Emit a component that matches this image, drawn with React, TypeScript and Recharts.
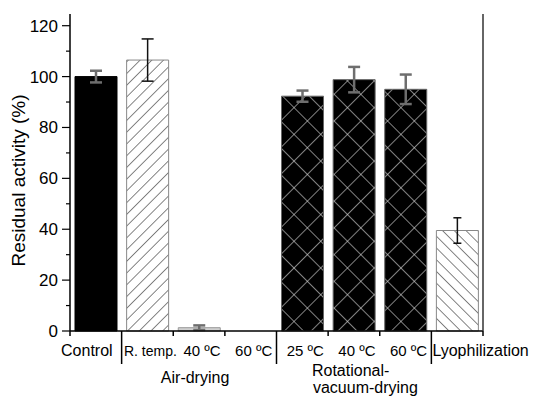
import { BarChart, Bar, XAxis, YAxis, ErrorBar, Cell } from 'recharts';

const categories = ['Control', 'R. temp.', '40 ºC', '60 ºC', '25 ºC', '40 ºC', '60 ºC', 'Lyophilization'];
const activity = [100, 106.5, 1.3, 0, 92.3, 98.8, 95, 39.5];
const deviation = [2.3, 8.3, 0.9, 0, 2.2, 5.0, 5.8, 5.0];
const yTicks = [0, 10, 20, 30, 40, 50, 60, 70, 80, 90, 100, 110, 120];

// how each treatment is drawn: fill, outline and which error bar style it uses
const looks = [
  { fill: '#000', stroke: '#000', err: 'gray' },
  { fill: 'url(#hatchFwd)', stroke: '#888', err: 'black' },
  { fill: '#cfcfcf', stroke: '#999', err: 'gray' },
  { fill: '#cfcfcf', stroke: '#999', err: 'gray' },
  { fill: 'url(#crossHatch)', stroke: '#666', err: 'gray' },
  { fill: 'url(#crossHatch)', stroke: '#666', err: 'gray' },
  { fill: 'url(#crossHatch)', stroke: '#666', err: 'gray' },
  { fill: 'url(#hatchBack)', stroke: '#888', err: 'narrow' },
];

const rows = categories.map((name, i) => ({
  name,
  value: activity[i],
  errGray: looks[i].err === 'gray' ? deviation[i] : undefined,
  errBlack: looks[i].err === 'black' ? deviation[i] : undefined,
  errNarrow: looks[i].err === 'narrow' ? deviation[i] : undefined,
}));

const FONT = '"Liberation Sans", Arial, sans-serif';
const groupStarts = [1, 4, 7];

const WIDTH = 533;
const HEIGHT = 396;
const TOP = 14;
const X_AXIS_H = 65;
const PLOT_H = HEIGHT - TOP - X_AXIS_H;

const ValueTick = (props: any) => {
  const { x, y, payload } = props;
  const major = payload.value % 20 === 0;
  return (
    <g>
      <line x1={x - (major ? 8 : 4)} x2={x} y1={y} y2={y} stroke="#000" strokeWidth={1.2} />
      {major && (
        <text x={x - 12} y={y + 6} textAnchor="end" fontSize={17} fontFamily={FONT} fill="#000">
          {payload.value}
        </text>
      )}
    </g>
  );
};

const CategoryTick = (props: any) => {
  const { x, y, payload } = props;
  const i = payload.index ?? props.index;
  const half = payload.offset ?? 0;
  const left = x - half;
  const right = x + half;
  const last = i === categories.length - 1;

  let labelX = x + 3;
  let anchor: 'start' | 'middle' | 'end' = 'middle';
  let size = 15;
  if (i === 0) {
    labelX = right - 9;
    anchor = 'end';
    size = 16;
  } else if (last) {
    labelX = left + 1;
    anchor = 'start';
    size = 16;
  } else if (i === 1) {
    size = 14;
  }

  const long = groupStarts.includes(i);
  return (
    <g fontFamily={FONT} fill="#000">
      <line x1={left} x2={left} y1={y} y2={y + (long ? 33 : 5)} stroke="#000" strokeWidth={1.5} />
      {last && (
        <>
          <line x1={right} x2={right} y1={y} y2={y + 5} stroke="#000" strokeWidth={1.5} />
          {/* right edge of the frame */}
          <line x1={right} x2={right} y1={y} y2={y - PLOT_H} stroke="#333" strokeWidth={1.5} />
        </>
      )}
      <text x={labelX} y={y + 25} textAnchor={anchor} fontSize={size}>
        {payload.value}
      </text>
      {i === 2 && (
        <text x={x - 4} y={y + 52} textAnchor="middle" fontSize={16}>
          Air-drying
        </text>
      )}
      {i === 5 && (
        <>
          <text x={x - 42} y={y + 45} textAnchor="start" fontSize={16}>
            Rotational-
          </text>
          <text x={x - 41} y={y + 62} textAnchor="start" fontSize={16}>
            vacuum-drying
          </text>
        </>
      )}
    </g>
  );
};

const AxisTitle = (props: any) => {
  const { viewBox } = props;
  const cy = viewBox.y + viewBox.height / 2 + 8;
  return (
    <text
      transform={`translate(25, ${cy}) rotate(-90)`}
      textAnchor="middle"
      fontSize={19}
      fontFamily={FONT}
      fill="#000"
    >
      Residual activity (%)
    </text>
  );
};

export default function App() {
  return (
    <div style={{ position: 'absolute', left: 0, top: 0, background: '#fff' }}>
      <BarChart width={WIDTH} height={HEIGHT} data={rows} margin={{ top: TOP, right: 50, left: 0, bottom: 0 }}>
        <defs>
          <pattern id="hatchFwd" width={8.3} height={8.3} patternUnits="userSpaceOnUse" patternTransform="rotate(45)">
            <rect width={8.3} height={8.3} fill="#fff" />
            <line x1={0} y1={0} x2={0} y2={8.3} stroke="#333" strokeWidth={1.2} />
          </pattern>
          <pattern id="hatchBack" width={8.3} height={8.3} patternUnits="userSpaceOnUse" patternTransform="rotate(-45)">
            <rect width={8.3} height={8.3} fill="#fff" />
            <line x1={0} y1={0} x2={0} y2={8.3} stroke="#333" strokeWidth={1.2} />
          </pattern>
          <pattern id="crossHatch" width={18.9} height={18.9} patternUnits="userSpaceOnUse" patternTransform="rotate(45)">
            <rect width={18.9} height={18.9} fill="#000" />
            <line x1={0} y1={0} x2={0} y2={18.9} stroke="#d8d8d8" strokeWidth={1.2} />
            <line x1={0} y1={0} x2={18.9} y2={0} stroke="#d8d8d8" strokeWidth={1.2} />
          </pattern>
        </defs>
        <XAxis
          dataKey="name"
          interval={0}
          tickLine={false}
          tickSize={0}
          tickMargin={0}
          height={X_AXIS_H}
          axisLine={{ stroke: '#000', strokeWidth: 1.5 }}
          tick={<CategoryTick />}
        />
        <XAxis
          xAxisId="top"
          dataKey="name"
          orientation="top"
          height={0}
          tick={false}
          tickLine={false}
          axisLine={{ stroke: '#000', strokeWidth: 1.5 }}
        />
        <YAxis
          type="number"
          domain={[0, 124.6]}
          ticks={yTicks}
          interval={0}
          width={70}
          tickLine={false}
          tickSize={0}
          tickMargin={0}
          axisLine={{ stroke: '#000', strokeWidth: 1.5 }}
          tick={<ValueTick />}
          label={<AxisTitle />}
        />
        <Bar dataKey="value" barSize={42} isAnimationActive={false}>
          {rows.map((r, i) => (
            <Cell key={i} fill={looks[i].fill} stroke={looks[i].stroke} strokeWidth={1} />
          ))}
          <ErrorBar dataKey="errGray" width={6} stroke="#6e6e6e" strokeWidth={2.5} isAnimationActive={false} />
          <ErrorBar dataKey="errBlack" width={6} stroke="#111" strokeWidth={1.5} isAnimationActive={false} />
          <ErrorBar dataKey="errNarrow" width={4} stroke="#111" strokeWidth={1.5} isAnimationActive={false} />
        </Bar>
      </BarChart>
    </div>
  );
}
